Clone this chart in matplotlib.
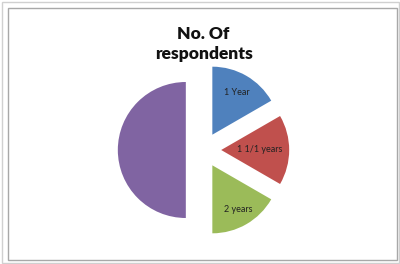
import numpy as np
import matplotlib
matplotlib.use('Agg')
from matplotlib import pyplot as plt
from matplotlib.patches import Rectangle

# 數據
labels = ['1 Year', '1 1/1 years', '2 years', '']
values = [1, 1, 1, 3]
colors = ['#4F81BD', '#C0504D', '#9BBB59', '#8064A2']
label_dist = [0.72, 0.57, 0.75, 0.7]

fig = plt.figure(figsize=(4, 2.64), dpi=100)
ax = fig.add_axes([0, 0, 1, 1])

# 以像素為座標, 圓心 (203.5, 114), 半徑 68
cx, cy, r = 203.5, 114, 68
# explode 在 matplotlib 是絕對距離
wedges, texts = ax.pie(values, labels=labels, colors=colors,
                       explode=[0.26 * r] * 4, startangle=90, counterclock=False,
                       radius=r, center=(cx, cy), labeldistance=0.7,
                       wedgeprops=dict(edgecolor='none'),
                       textprops=dict(family='Lato', fontsize=6.5,
                                      color='#222222', ha='center', va='center'))

# 每塊標籤的位置
for w, t, d in zip(wedges, texts, label_dist):
    ang = np.deg2rad((w.theta1 + w.theta2) / 2)
    x0, y0 = w.center
    t.set_position((x0 + d * r * np.cos(ang), y0 + d * r * np.sin(ang)))
    t.set_ha('center')

ax.set_xlim(0, 400)
ax.set_ylim(0, 264)
ax.set_aspect('equal')
ax.axis('off')

# 標題
ax.text(203, 230, 'No. Of', ha='center', va='center', family='Lato',
        fontweight='heavy', fontsize=12.5, color='#111111')
ax.text(204, 210, 'respondents', ha='center', va='center', family='Lato',
        fontweight='heavy', fontsize=12.5, color='#111111')

# 外框
ax.add_patch(Rectangle((2, 1), 397, 261, fill=False, edgecolor='#d0d0d0', lw=1))
ax.add_patch(Rectangle((8, 4), 389, 252, fill=False, edgecolor='#a8a8a8', lw=1))

fig.savefig('out.png', dpi=100)
